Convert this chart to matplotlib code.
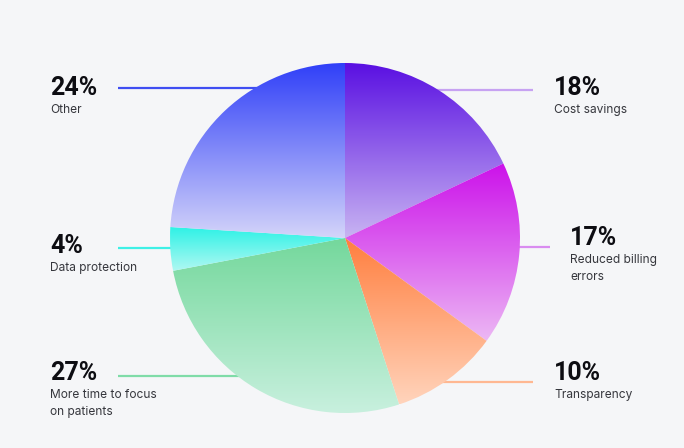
import numpy as np
import matplotlib.pyplot as plt
from matplotlib.colors import LinearSegmentedColormap

# slices, clockwise from 12 o'clock
labels = ["Cost savings", "Reduced billing\nerrors", "Transparency",
          "More time to focus\non patients", "Data protection", "Other"]
values = [18, 17, 10, 27, 4, 24]
pct_text = ["18%", "17%", "10%", "27%", "4%", "24%"]

# gradient colours per slice (top -> bottom)
top_colors = ["#5a10e2", "#cc12ea", "#ff7e3e", "#74d89c", "#2ef2e6", "#2f3ff8"]
bottom_colors = ["#c8b4f2", "#ecb8f4", "#ffd4bc", "#c8f0de", "#b0f8f2", "#d4d4fa"]
line_colors = ["#c7a2f2", "#d98cf0", "#ffb892", "#7fdca8", "#3ef0e6", "#3f4ef2"]

bg = "#f5f6f8"
W, H = 684, 448
cx, cy, r = 345, 448 - 238, 175

fig = plt.figure(figsize=(6.84, 4.48), dpi=100, facecolor=bg)
ax = fig.add_axes([0, 0, 1, 1])
ax.set_facecolor(bg)

wedges, _ = ax.pie(values, startangle=90, counterclock=False,
                   center=(cx, cy), radius=r, frame=True,
                   wedgeprops=dict(linewidth=0))

# vertical gradient inside every wedge
for w, c0, c1 in zip(wedges, top_colors, bottom_colors):
    w.set_facecolor("none")
    ext = w.get_path().get_extents()
    cmap = LinearSegmentedColormap.from_list("g", [c1, c0])
    grad = np.linspace(0, 1, 256).reshape(-1, 1)
    im = ax.imshow(grad, cmap=cmap, origin="lower", aspect="auto",
                   extent=[ext.x0, ext.x1, ext.y0, ext.y1],
                   interpolation="bilinear", zorder=2)
    im.set_clip_path(w)

# leader lines (drawn behind the pie) and labels
# (x_line_start, x_line_end, y_line, x_text, y_pct)
layout = [
    (400, 533, 90, 554, 88),
    (460, 550, 247, 570, 238),
    (400, 533, 382, 554, 373),
    (118, 300, 376, 50, 373),
    (118, 260, 248, 50, 246),
    (118, 300, 88, 50, 88),
]
for (x0, x1, yl, xt, yp), lab, pt, lc in zip(layout, labels, pct_text, line_colors):
    ax.plot([x0, x1], [H - yl, H - yl], color=lc, lw=1.6, zorder=1,
            solid_capstyle="butt")
    ax.text(xt, H - yp, pt, fontsize=18, fontweight="bold",
            family="Roboto", color="#0d0d12", va="center", ha="left")
    ax.text(xt, H - yp - 16, lab, fontsize=8.6, family="Inter",
            color="#36373d", va="top", ha="left", linespacing=1.55)

ax.set_xlim(0, W)
ax.set_ylim(0, H)
ax.set_aspect("auto")
ax.axis("off")

fig.savefig("out.png", dpi=100, facecolor=bg)
